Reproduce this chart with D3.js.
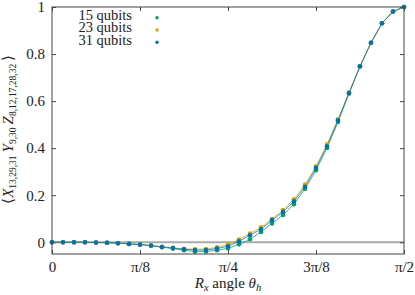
<!DOCTYPE html>
<meta charset="utf-8">
<style>
    body { margin: 0; background: #fff; }
    .frame { fill: none; stroke: #444; stroke-width: 1; }
    .zero { stroke: #aaa; stroke-width: 2; }
    .series path { fill: none; stroke-width: 1; stroke-opacity: 0.75; }
</style>
<body>
<script src="https://cdn.jsdelivr.net/npm/d3@7"></script>
<script>

    var margin = {top: 7, right: 11, bottom: 41, left: 52},
        width = 415 - margin.left - margin.right,
        height = 295 - margin.top - margin.bottom;

    var serif = "'Liberation Serif'";

    // angle index k -> theta = k * pi/64
    var steps = d3.range(33);

    var q15 = [0, 0, 0, 0, -0.001, -0.002, -0.004, -0.007, -0.010, -0.015, -0.021, -0.027, -0.034, -0.040, -0.039, -0.034,
        -0.026, -0.009, 0.013, 0.044, 0.080, 0.116, 0.162, 0.227, 0.306, 0.401, 0.511, 0.632, 0.747, 0.848, 0.931, 0.981, 1.0];
    var q23 = [0, 0, 0, 0, -0.001, -0.002, -0.004, -0.007, -0.010, -0.014, -0.019, -0.024, -0.028, -0.030, -0.029, -0.022,
        -0.010, 0.011, 0.037, 0.063, 0.099, 0.137, 0.183, 0.245, 0.323, 0.416, 0.523, 0.637, 0.749, 0.848, 0.931, 0.981, 1.0];
    var q31 = [0, 0, 0, 0, -0.001, -0.002, -0.004, -0.007, -0.010, -0.014, -0.020, -0.025, -0.030, -0.033, -0.033, -0.027,
        -0.017, 0.004, 0.030, 0.055, 0.094, 0.129, 0.174, 0.236, 0.316, 0.408, 0.518, 0.634, 0.748, 0.848, 0.931, 0.981, 1.0];

    var seriesNames = ["15 qubits", "23 qubits", "31 qubits"];
    var seriesColors = ["#009e73", "#e69f00", "#0072b2"];
    var seriesValues = [q15, q23, q31];

    var xTicks = [0, Math.PI / 8, Math.PI / 4, 3 * Math.PI / 8, Math.PI / 2];
    var xTickLabels = ["0", "\u03c0/8", "\u03c0/4", "3\u03c0/8", "\u03c0/2"];
    var yTicks = [0, 0.2, 0.4, 0.6, 0.8, 1];

    var x = d3.scaleLinear().domain([0, Math.PI / 2]).range([0, width]);
    var y = d3.scaleLinear().domain([-0.05, 1]).range([height, 0]);

    var svg = d3.select("body").append("svg")
        .attr("width", width + margin.left + margin.right)
        .attr("height", height + margin.top + margin.bottom)
        .append("g")
        .attr("transform", "translate(" + margin.left + "," + margin.top + ")");

    // zero reference line
    svg.append("line").attr("class", "zero")
        .attr("x1", 0).attr("x2", width)
        .attr("y1", y(0)).attr("y2", y(0));

    function styleAxis(g) {
        g.attr("font-family", null).attr("font-size", null);
        g.select(".domain").remove();
        g.selectAll(".tick line").attr("stroke", "#444");
        g.selectAll(".tick text").style("font-family", serif).style("font-size", "15px").attr("fill", "#222");
    }

    svg.append("g")
        .attr("transform", "translate(0," + height + ")")
        .call(d3.axisBottom(x).tickValues(xTicks).tickFormat(function(d, i) { return xTickLabels[i]; })
            .tickSizeInner(-4).tickPadding(7))
        .call(styleAxis);
    svg.append("g")
        .call(d3.axisTop(x).tickValues(xTicks).tickFormat("").tickSizeInner(-4))
        .call(styleAxis);
    svg.append("g")
        .call(d3.axisLeft(y).tickValues(yTicks).tickFormat(function(d) { return d === 0 || d === 1 ? d : d3.format(".1f")(d); })
            .tickSizeInner(-4).tickPadding(7))
        .call(styleAxis);
    svg.append("g")
        .attr("transform", "translate(" + width + ",0)")
        .call(d3.axisRight(y).tickValues(yTicks).tickFormat("").tickSizeInner(-4))
        .call(styleAxis);

    var line = d3.line()
        .x(function(d, i) { return x(i * Math.PI / 64); })
        .y(function(d) { return y(d); });

    seriesValues.forEach(function(vals, s) {
        var g = svg.append("g").attr("class", "series");
        g.append("path").attr("d", line(vals)).attr("stroke", seriesColors[s]);
    });
    seriesValues.forEach(function(vals, s) {
        svg.append("g").selectAll("circle")
            .data(steps)
            .enter().append("circle")
            .attr("cx", function(k) { return x(k * Math.PI / 64); })
            .attr("cy", function(k) { return y(vals[k]); })
            .attr("r", 2.3)
            .attr("fill", seriesColors[s]);
    });

    svg.append("rect").attr("class", "frame")
        .attr("width", width).attr("height", height);

    // legend
    var legend = svg.append("g");
    seriesNames.forEach(function(name, i) {
        legend.append("text")
            .attr("x", 80).attr("y", 13 + i * 12.3)
            .attr("text-anchor", "end")
            .style("font-family", serif)
            .style("font-size", "14.5px")
            .attr("fill", "#222")
            .text(name);
        legend.append("circle")
            .attr("cx", 105).attr("cy", 10.7 + i * 12.3)
            .attr("r", 1.7)
            .attr("fill", seriesColors[i]);
    });

    // x title
    var xt = svg.append("text")
        .attr("x", width / 2).attr("y", height + 34)
        .attr("text-anchor", "middle")
        .attr("fill", "#222")
        .style("font-family", serif)
        .style("font-size", "15px");
    xt.append("tspan").style("font-style", "italic").text("R");
    xt.append("tspan").style("font-style", "italic").style("font-size", "10.5px").attr("dy", 3).text("x");
    xt.append("tspan").attr("dy", -3).text(" angle ");
    xt.append("tspan").style("font-style", "italic").text("\u03b8");
    xt.append("tspan").style("font-style", "italic").style("font-size", "10.5px").attr("dy", 3).text("h");

    // y title
    var yt = svg.append("text")
        .attr("transform", "translate(" + (13 - margin.left) + "," + (y(0.48)) + ") rotate(-90)")
        .attr("text-anchor", "middle")
        .attr("fill", "#222")
        .style("font-family", serif)
        .style("font-size", "15px");
    var parts = [["\u27e8", null], ["X", "13,29,31"], ["Y", "9,30"], ["Z", "8,12,17,28,32"], ["\u27e9", null]];
    parts.forEach(function(p) {
        var t = yt.append("tspan").text(p[0]);
        if (p[0] !== "\u27e8" && p[0] !== "\u27e9") t.style("font-style", "italic");
        if (p[1]) {
            yt.append("tspan").style("font-size", "9.5px").attr("dy", 3).text(p[1]);
            yt.append("tspan").attr("dy", -3).text("\u2009");
        }
    });

</script>
</body>
